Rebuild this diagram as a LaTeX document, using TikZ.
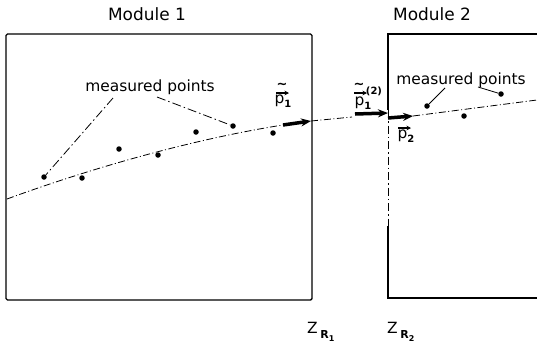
\documentclass[tikz,border=0pt]{standalone}
\usepackage{fontspec}
\setmainfont{DejaVu Sans}
\usetikzlibrary{arrows.meta, positioning, calc}

\newcommand{\subidx}[1]{\raisebox{-4bp}{\fontsize{10}{10}\selectfont\bfseries #1}}

\begin{document}
\begin{tikzpicture}[
		x=1bp, y=-1bp,
		% Estilos
		modline/.style = {draw, line width=1.4bp},
		title/.style = {font=\fontsize{17}{17}\selectfont},
		lbl/.style = {font=\fontsize{15.5}{16}\selectfont, inner sep=0pt},
		pt/.style = {circle, fill, inner sep=0pt, minimum size=5.5bp},
		fitline/.style = {line width=0.8bp, dash pattern=on 7bp off 2.5bp on 1bp off 2.5bp},
		leader/.style = {line width=0.8bp},
		mom/.style = {line width=3.5bp, -{Stealth[length=10bp,width=8bp]}},
		vecacc/.style = {line width=1.2bp, -{Stealth[length=4.5bp,width=4.5bp]}},
		tld/.style = {font=\fontsize{13}{13}\selectfont\bfseries, inner sep=0pt},
		]
		\useasboundingbox (0,0) rectangle (537,351);
		
		% --- MODULOS ---
		\draw [modline, rounded corners=1.5bp] (6,34) rectangle (312,300);
		\draw [modline] (537,34) -- (388,34) -- (388,110);
		\draw [modline, line width=1bp, dash pattern=on 8bp off 3bp on 1.5bp off 3bp] (388,110) -- (388,226);
		\draw [modline] (388,226) -- (388,298) -- (537,298);
		\node [title] (mod1) at (147,14) {Module 1};
		\node [title] (mod2) at (432,14) {Module 2};
		
		% --- PUNTOS MEDIDOS (modulo 1) ---
		\node [pt] (a1) at (44,177) {};
		\node [pt] (a2) at (82,178) {};
		\node [pt] (a3) at (119,149) {};
		\node [pt] (a4) at (158,155) {};
		\node [pt] (a5) at (196,132) {};
		\node [pt] (a6) at (233,126) {};
		\node [pt] (a7) at (273,133) {};
		
		% --- PUNTOS MEDIDOS (modulo 2) ---
		\node [pt] (b1) at (427,106) {};
		\node [pt] (b2) at (501,94) {};
		\node [pt] (b3) at (464,116) {};
		
		% --- AJUSTE DE TRAZA ---
		\coordinate (fit1s) at (7,199);
		\coordinate (fit1e) at (283,125);
		\coordinate (edge1) at (311,121);
		\coordinate (gap1) at (352,117);
		\coordinate (p2s) at (355,114);
		\coordinate (edge2) at (388,113);
		\coordinate (q2s) at (388,118);
		\coordinate (q2e) at (413,116);
		\coordinate (fit2e) at (537,100);
		\draw [fitline] (fit1s) .. controls (100,165) and (200,138) .. (fit1e);
		\draw [fitline] (edge1) -- (gap1);
		\draw [fitline] (q2e) -- (fit2e);
		
		% --- VECTORES ---
		\draw [mom] (fit1e) -- (edge1);
		\draw [mom] (p2s) -- (edge2);
		\draw [mom] (q2s) -- (q2e);
		
		% p1 tilde
		\node [lbl] (p1t) at (283,101) {p\subidx{1}};
		\coordinate (v1a) at (276,93);
		\coordinate (v1b) at (289,93);
		\draw [vecacc] (v1a) -- (v1b);
		\node [tld] (t1) at (282,86) {\char"223C};
		
		% p1 tilde (2)
		\node [lbl] (p12) at (363,103) {p\subidx{1}};
		\coordinate (v2a) at (354,93);
		\coordinate (v2b) at (367,93);
		\draw [vecacc] (v2a) -- (v2b);
		\node [tld] (t2) at (359,86) {\char"223C};
		\node [lbl, font=\fontsize{10}{10}\selectfont\bfseries] (sup2) at (374,91) {(2)};
		
		% p2
		\node [lbl] (p2v) at (406,136) {p\subidx{2}};
		\coordinate (v3a) at (398,128);
		\coordinate (v3b) at (411,128);
		\draw [vecacc] (v3a) -- (v3b);
		
		% --- ETIQUETAS ---
		\node [lbl] (meas1) at (150,87) {measured points};
		\node [lbl] (meas2) at (461,80) {measured points};
		\coordinate (l1a) at (113,98);
		\coordinate (l1b) at (157,97);
		\coordinate (l2a) at (445,88);
		\coordinate (l2b) at (478,87);
		\draw [leader, dash pattern=on 9bp off 3bp on 1.5bp off 3bp] (l1a) -- (a1);
		\draw [leader, dash pattern=on 9bp off 3bp on 1.5bp off 3bp] (l1b) -- (a6);
		\draw [leader] (l2a) -- (b1);
		\draw [leader] (l2b) -- (b2);
		
		% --- PLANOS DE REFERENCIA ---
		\node [lbl, anchor=base west] (zr1) at (307,333) {Z\,\raisebox{-5bp}{\fontsize{11}{11}\selectfont\bfseries R\raisebox{-3bp}{\fontsize{8}{8}\selectfont 1}}};
		\node [lbl, anchor=base west] (zr2) at (387,333) {Z\,\raisebox{-5bp}{\fontsize{11}{11}\selectfont\bfseries R\raisebox{-3bp}{\fontsize{8}{8}\selectfont 2}}};
		
	\end{tikzpicture}
\end{document}
